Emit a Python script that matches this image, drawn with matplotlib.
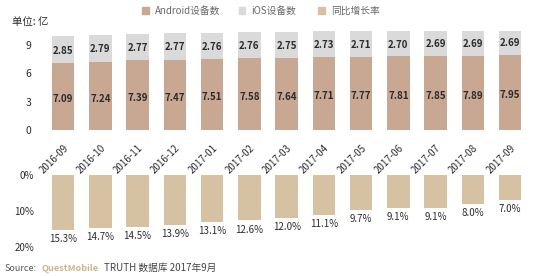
import matplotlib.pyplot as plt
from matplotlib.patches import Rectangle

plt.rcParams['font.family'] = ['Noto Sans CJK SC', 'DejaVu Sans']

# data
months = ['2016-09', '2016-10', '2016-11', '2016-12', '2017-01', '2017-02', '2017-03',
          '2017-04', '2017-05', '2017-06', '2017-07', '2017-08', '2017-09']
android = [7.09, 7.24, 7.39, 7.47, 7.51, 7.58, 7.64, 7.71, 7.77, 7.81, 7.85, 7.89, 7.95]
ios = [2.85, 2.79, 2.77, 2.77, 2.76, 2.76, 2.75, 2.73, 2.71, 2.70, 2.69, 2.69, 2.69]
growth = [15.3, 14.7, 14.5, 13.9, 13.1, 12.6, 12.0, 11.1, 9.7, 9.1, 9.1, 8.0, 7.0]

c_android = '#c8a892'
c_ios = '#dadada'
c_growth = '#d6c1a3'
txt = '#2b2b2b'

fig = plt.figure(figsize=(5.4, 2.76), dpi=100)
x = list(range(len(months)))
w = 0.6

# top: device counts
ax = fig.add_axes([0.0685, 0.529, 0.9245, 0.359])
ax.bar(x, android, w, color=c_android)
ax.bar(x, ios, w, bottom=android, color=c_ios)
for i in x:
    ax.text(i, android[i] / 2 - 0.3, f'{android[i]:.2f}', ha='center', va='center',
            fontsize=7, color=txt, fontweight='bold')
    ax.text(i, android[i] + ios[i] / 2 - 0.1, f'{ios[i]:.2f}', ha='center', va='center',
            fontsize=7, color=txt, fontweight='bold')
ax.set_xlim(-0.7, 12.7)
ax.set_ylim(0, 10.5)
ax.set_yticks([0, 3, 6, 9])
ax.tick_params(axis='y', length=0, labelsize=7.5, colors=txt, pad=4)
ax.set_xticks(x)
ax.set_xticklabels(months, rotation=45, ha='right', rotation_mode='anchor',
                   fontsize=7, color=txt)
ax.tick_params(axis='x', length=0, pad=9)
for s in ax.spines.values():
    s.set_visible(False)

# bottom: yoy growth
ax2 = fig.add_axes([0.0685, 0.105, 0.9245, 0.261])
ax2.bar(x, growth, w, color=c_growth)
for i in x:
    ax2.annotate(f'{growth[i]:.1f}%', (i, growth[i]), xytext=(0, -3),
                 textcoords='offset points', ha='center', va='top',
                 fontsize=7, color=txt)
ax2.set_xlim(-0.7, 12.7)
ax2.set_ylim(20, 0)
ax2.set_yticks([0, 10, 20])
ax2.set_yticklabels(['0%', '10%', '20%'])
ax2.tick_params(axis='y', length=0, labelsize=7, colors=txt, pad=2)
ax2.set_xticks([])
ax2.axhline(20, color='#f0f0f0', lw=0.8)
for s in ax2.spines.values():
    s.set_visible(False)

# unit label
fig.text(0.022, 0.92, '单位: 亿', fontsize=7.5, color=txt, va='center')

# legend
legend = [(c_android, 'Android设备数', 0.263), (c_ios, 'iOS设备数', 0.442),
          (c_growth, '同比增长率', 0.589)]
for col, label, lx in legend:
    fig.patches.append(Rectangle((lx, 0.95), 0.012, 0.024, transform=fig.transFigure,
                                 color=col, figure=fig))
    fig.text(lx + 0.024, 0.962, label, fontsize=7, color='#666666', va='center')

# source line
fig.text(0.008, 0.028, 'Source:', fontsize=6.5, color='#555555', va='center')
fig.text(0.076, 0.028, 'QuestMobile', fontsize=6.6, color='#c9b58f', va='center',
         fontweight='bold')
fig.text(0.192, 0.028, 'TRUTH 数据库 2017年9月', fontsize=7, color='#444444',
         va='center')

fig.savefig('out.png', dpi=100)
